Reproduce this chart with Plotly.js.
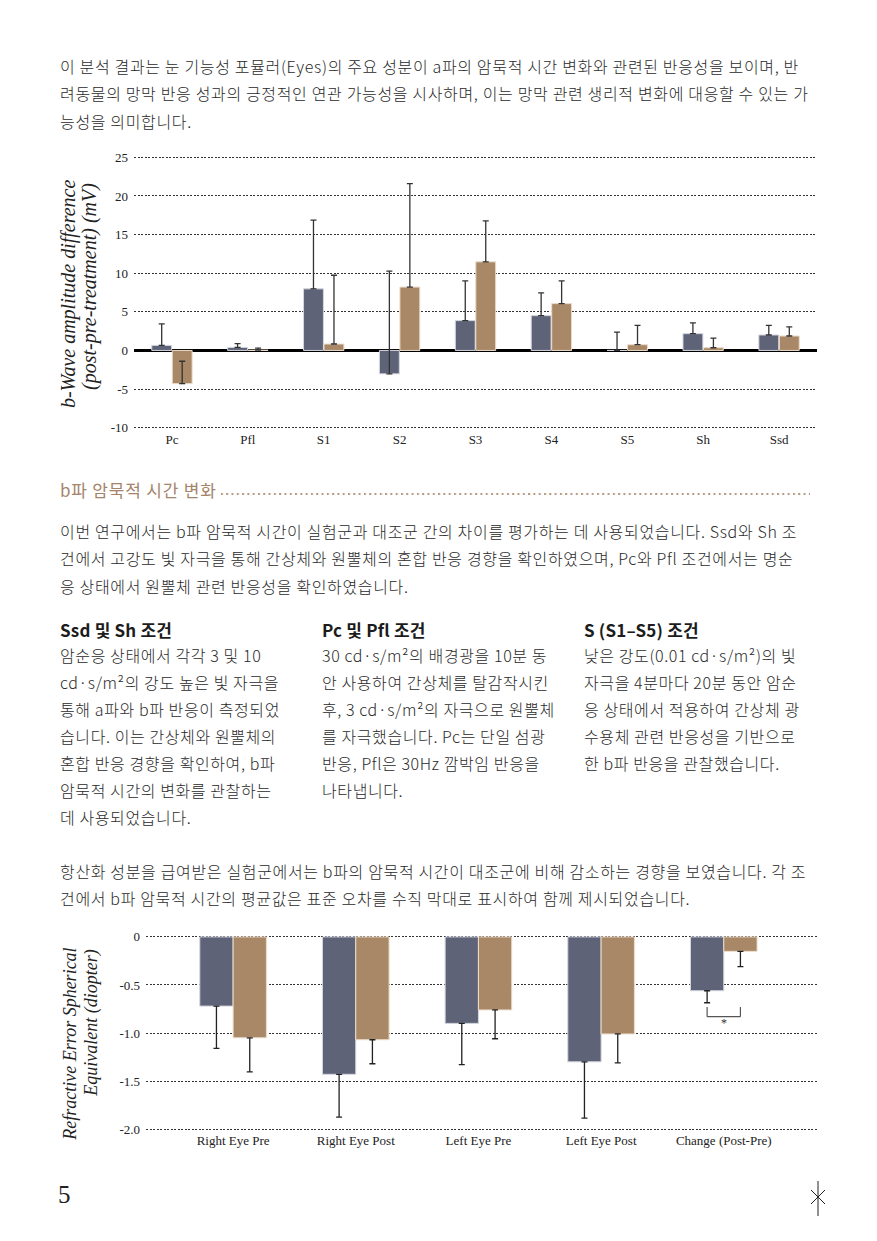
<!DOCTYPE html>
<html><head><meta charset="utf-8">
<script src="https://cdn.plot.ly/plotly-3.0.1.min.js"></script>
<style>
body{margin:0;width:877px;height:1241px;background:#fff;position:relative;font-family:"Noto Sans CJK KR","Noto Sans",sans-serif;color:#2a2a2a;overflow:hidden}
.p{position:absolute;left:60px;font-size:16px;line-height:27.3px;white-space:nowrap;letter-spacing:0.66px;font-weight:300}
.h{position:absolute;font-size:17px;font-weight:700;line-height:27px;white-space:nowrap;color:#1c1c1c;letter-spacing:0.2px}
.col{position:absolute;font-size:16px;line-height:27px;white-space:nowrap;letter-spacing:0.6px;font-weight:300}
.sec{position:absolute;left:60px;top:476px;width:750px;display:flex;align-items:center;font-size:17px;line-height:27px;color:#a4846a;letter-spacing:0.8px;white-space:nowrap;font-weight:400}
.sec .lead{flex:1;height:4px;margin-left:3px;margin-top:8px;background:radial-gradient(circle at 2px 2px,#b39a80 0.9px,rgba(255,255,255,0) 1.3px) repeat-x;background-size:5.3px 4px}
#chart1{position:absolute;left:0;top:140px;width:877px;height:320px}
#chart2{position:absolute;left:0;top:920px;width:877px;height:240px}
.pg{position:absolute;left:58px;top:1181px;font-family:"Liberation Serif",serif;font-size:25px;color:#222}
</style></head>
<body>
<div class="p" style="top:53px">이 분석 결과는 눈 기능성 포뮬러(Eyes)의 주요 성분이 a파의 암묵적 시간 변화와 관련된 반응성을 보이며, 반<br>려동물의 망막 반응 성과의 긍정적인 연관 가능성을 시사하며, 이는 망막 관련 생리적 변화에 대응할 수 있는 가<br>능성을 의미합니다.</div>
<div id="chart1"></div>
<div class="sec"><span>b파 암묵적 시간 변화</span><div class="lead"></div></div>
<div class="p" style="top:518px">이번 연구에서는 b파 암묵적 시간이 실험군과 대조군 간의 차이를 평가하는 데 사용되었습니다. Ssd와 Sh 조<br>건에서 고강도 빛 자극을 통해 간상체와 원뿔체의 혼합 반응 경향을 확인하였으며, Pc와 Pfl 조건에서는 명순<br>응 상태에서 원뿔체 관련 반응성을 확인하였습니다.</div>
<div class="h" style="left:60px;top:616px">Ssd 및 Sh 조건</div>
<div class="h" style="left:322px;top:616px">Pc 및 Pfl 조건</div>
<div class="h" style="left:584px;top:616px">S (S1–S5) 조건</div>
<div class="col" style="left:60px;top:642px">암순응 상태에서 각각 3 및 10<br>cd·s/m²의 강도 높은 빛 자극을<br>통해 a파와 b파 반응이 측정되었<br>습니다. 이는 간상체와 원뿔체의<br>혼합 반응 경향을 확인하여, b파<br>암묵적 시간의 변화를 관찰하는<br>데 사용되었습니다.</div>
<div class="col" style="left:322px;top:642px">30 cd·s/m²의 배경광을 10분 동<br>안 사용하여 간상체를 탈감작시킨<br>후, 3 cd·s/m²의 자극으로 원뿔체<br>를 자극했습니다. Pc는 단일 섬광<br>반응, Pfl은 30Hz 깜박임 반응을<br>나타냅니다.</div>
<div class="col" style="left:584px;top:642px">낮은 강도(0.01 cd·s/m²)의 빛<br>자극을 4분마다 20분 동안 암순<br>응 상태에서 적용하여 간상체 광<br>수용체 관련 반응성을 기반으로<br>한 b파 반응을 관찰했습니다.</div>
<div class="p" style="top:858px">항산화 성분을 급여받은 실험군에서는 b파의 암묵적 시간이 대조군에 비해 감소하는 경향을 보였습니다. 각 조<br>건에서 b파 암묵적 시간의 평균값은 표준 오차를 수직 막대로 표시하여 함께 제시되었습니다.</div>
<div id="chart2"></div>
<div class="pg">5</div>
<svg style="position:absolute;left:806px;top:1180px" width="24" height="38">
<line x1="12" y1="1" x2="12" y2="36" stroke="#222" stroke-width="1"/>
<line x1="5" y1="10" x2="19" y2="24" stroke="#222" stroke-width="1"/>
<line x1="19" y1="10" x2="5" y2="24" stroke="#222" stroke-width="1"/>
</svg>
<script>
// Top chart data
const conditions = ['Pc','Pfl','S1','S2','S3','S4','S5','Sh','Ssd'];
const controlDiff = [0.65,0.39,7.97,-3.03,3.86,4.5,0,2.17,2.0];
const controlErr = [2.8,0.5,8.9,13.3,5.15,2.95,2.38,1.4,1.25];
const treatDiff = [-4.3,0.03,0.83,8.2,11.47,6.06,0.74,0.35,1.87];
const treatErr = [2.9,0.27,8.9,13.4,5.3,2.95,2.5,1.25,1.17];
const topTicks = [-10,-5,0,5,10,15,20,25];
const topTickText = ['-10','-5','0','5','10','15','20','25'];

// Bottom chart data
const eyeGroups = ['Right Eye Pre','Right Eye Post','Left Eye Pre','Left Eye Post','Change (Post-Pre)'];
const controlSE = [-0.72,-1.43,-0.90,-1.30,-0.56];
const controlSEErr = [0.44,0.445,0.43,0.585,0.125];
const treatSE = [-1.05,-1.07,-0.76,-1.01,-0.15];
const treatSEErr = [0.355,0.25,0.30,0.30,0.16];
const botTicks = [-2,-1.5,-1,-0.5,0];
const botTickText = ['-2.0','-1.5','-1.0','-0.5','0'];

const NAVY='#5e6378', TAN='#a98867';
const serif='"Liberation Serif","DejaVu Serif",serif';
const grid={showgrid:true,gridcolor:'#333',gridwidth:1,griddash:'2px,1.5px'};
const tf={family:serif,size:13,color:'#222'};

const t1=[
 {type:'bar',x:conditions,y:controlDiff,marker:{color:NAVY,line:{color:'#d4d6df',width:1}},
  error_y:{type:'data',symmetric:false,array:controlErr,arrayminus:conditions.map(()=>0),color:'#333',thickness:1.3,width:3}},
 {type:'bar',x:conditions,y:treatDiff,marker:{color:TAN,line:{color:'#ecdcca',width:1}},
  error_y:{type:'data',symmetric:false,array:treatErr,arrayminus:conditions.map(()=>0),color:'#333',thickness:1.3,width:3}}
];
const l1={width:877,height:320,margin:{l:134,r:60,t:14.7,b:29.7},paper_bgcolor:'#fff',plot_bgcolor:'#fff',
 showlegend:false,barmode:'group',bargap:0.46,bargroupgap:0.03,
 xaxis:{type:'category',range:[-0.5,8.5],showgrid:false,ticks:'',showline:false,zeroline:false,tickfont:tf},
 yaxis:Object.assign({range:[-10.3,25.3],tickvals:topTicks,ticktext:topTickText,ticks:'',showline:false,
   zeroline:true,zerolinecolor:'#000',zerolinewidth:2.5,ticklabelstandoff:5,tickfont:tf},grid),
 annotations:[
  {xref:'paper',yref:'paper',x:-0.0966,y:0.918,xanchor:'center',yanchor:'top',textangle:-90,showarrow:false,
   text:'<i>b-Wave amplitude difference</i>',font:{family:serif,size:20,color:'#222'}},
  {xref:'paper',yref:'paper',x:-0.0644,y:0.904,xanchor:'center',yanchor:'top',textangle:-90,showarrow:false,
   text:'<i>(post-pre-treatment) (mV)</i>',font:{family:serif,size:20,color:'#222'}}]
};
Plotly.newPlot('chart1',t1,l1,{displayModeBar:false,staticPlot:true});

const t2=[
 {type:'bar',x:eyeGroups,y:controlSE,marker:{color:NAVY,line:{color:'#d4d6df',width:1}},
  error_y:{type:'data',symmetric:false,array:eyeGroups.map(()=>0),arrayminus:controlSEErr,color:'#222',thickness:1.3,width:3}},
 {type:'bar',x:eyeGroups,y:treatSE,marker:{color:TAN,line:{color:'#ecdcca',width:1}},
  error_y:{type:'data',symmetric:false,array:eyeGroups.map(()=>0),arrayminus:treatSEErr,color:'#222',thickness:1.3,width:3}}
];
const off=(1-0.457)/4;
const l2={width:877,height:240,margin:{l:146,r:60,t:15.08,b:29.08},paper_bgcolor:'#fff',plot_bgcolor:'#fff',
 showlegend:false,barmode:'group',bargap:0.457,bargroupgap:0,
 xaxis:{type:'category',range:[-0.71,4.76],showgrid:false,ticks:'',showline:false,zeroline:false,tickfont:tf},
 yaxis:Object.assign({range:[-2.02,0.02],tickvals:botTicks,ticktext:botTickText,ticks:'',showline:false,zeroline:false,
   ticklabelstandoff:5,tickfont:tf},grid),
 shapes:[
  {type:'line',xref:'x',yref:'y',x0:4-off,x1:4-off,y0:-0.73,y1:-0.83,line:{color:'#555',width:1.2}},
  {type:'line',xref:'x',yref:'y',x0:4-off,x1:4+off,y0:-0.83,y1:-0.83,line:{color:'#555',width:1.2}},
  {type:'line',xref:'x',yref:'y',x0:4+off,x1:4+off,y0:-0.73,y1:-0.83,line:{color:'#555',width:1.2}}
 ],
 annotations:[
  {xref:'x',yref:'y',x:4,y:-0.9,text:'*',showarrow:false,font:{family:serif,size:12,color:'#333'}},
  {xref:'paper',yref:'paper',x:-0.1133,y:0.948,xanchor:'center',yanchor:'top',textangle:-90,showarrow:false,
   text:'<i>Refractive Error Spherical</i>',font:{family:serif,size:18,color:'#222'}},
  {xref:'paper',yref:'paper',x:-0.0805,y:0.938,xanchor:'center',yanchor:'top',textangle:-90,showarrow:false,
   text:'<i>Equivalent (diopter)</i>',font:{family:serif,size:18,color:'#222'}}]
};
Plotly.newPlot('chart2',t2,l2,{displayModeBar:false,staticPlot:true});
</script>
</body></html>
